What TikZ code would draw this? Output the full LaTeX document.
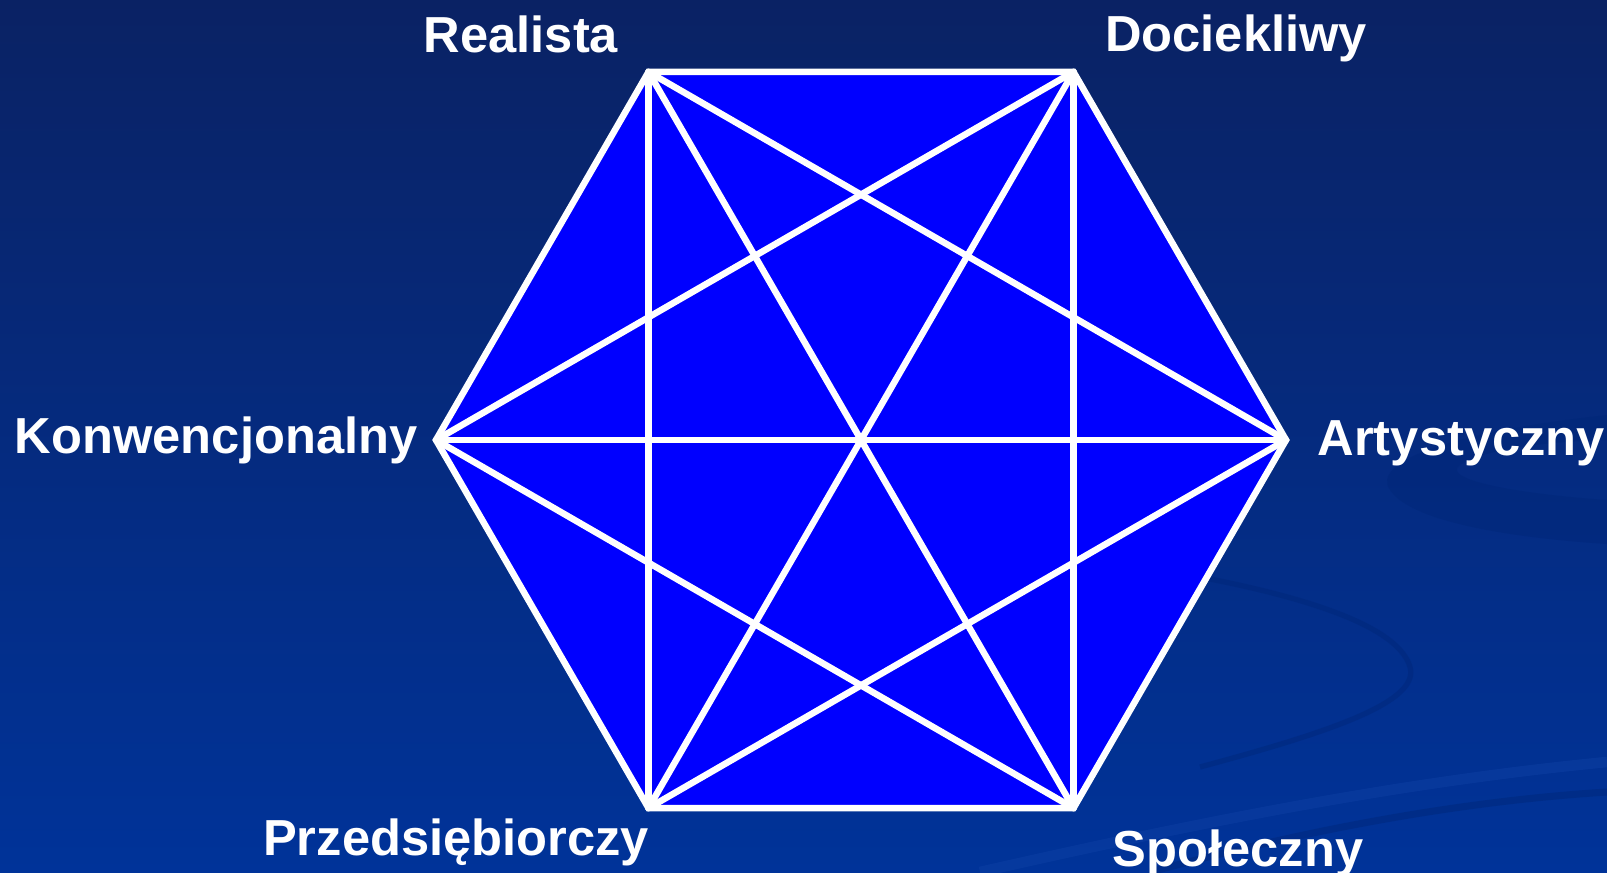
\documentclass[tikz,border=0pt]{standalone}
\usepackage{fontspec}
\setmainfont{Liberation Sans}
\usetikzlibrary{calc}
\definecolor{slidetop}{RGB}{10,34,100}
\definecolor{slideblue}{RGB}{0,51,153}
\definecolor{swooshdark}{RGB}{0,38,120}
\definecolor{swooshlight}{RGB}{20,70,170}
\definecolor{hexblue}{RGB}{0,0,255}

\begin{document}
\begin{tikzpicture}[
    x=0.01cm, y=0.01cm,
    trait/.style={font=\fontsize{14.4}{17}\selectfont\bfseries, text=white, inner sep=0pt},
    link/.style={white, line width=1.85pt, line cap=round, line join=miter},
    swoosh/.style={swooshdark, opacity=0.45},
  ]

  % --- Background ---
  \shade[top color=slidetop, middle color=slideblue, bottom color=slideblue]
    (0,0) rectangle (1607,872);
  \useasboundingbox (0,0) rectangle (1607,872);
  \fill[swoosh] (1607,457) .. controls (1450,440) and (1370,410) .. (1390,382)
    .. controls (1410,352) and (1500,335) .. (1607,328)
    -- (1607,372) .. controls (1520,378) and (1440,392) .. (1460,407)
    .. controls (1490,425) and (1550,430) .. (1607,432) -- cycle;
  \draw[swoosh, line width=1.5pt] (1200,295) .. controls (1330,270) and (1400,240) .. (1410,205)
    .. controls (1420,170) and (1330,140) .. (1200,105);
  \draw[swooshlight, opacity=0.35, line width=3pt] (980,0) .. controls (1200,50) and (1400,90) .. (1607,110);
  \draw[swoosh, line width=2pt] (1150,0) .. controls (1300,40) and (1450,70) .. (1607,80);

  % --- Corners of the hexagon ---
  \coordinate (hexc) at (861,432);
  \coordinate (real)  at ($(hexc)+(120:425)$);
  \coordinate (doc)   at ($(hexc)+(60:425)$);
  \coordinate (art)   at ($(hexc)+(0:425)$);
  \coordinate (spol)  at ($(hexc)+(-60:425)$);
  \coordinate (przed) at ($(hexc)+(-120:425)$);
  \coordinate (konw)  at ($(hexc)+(180:425)$);

  % --- Hexagon and all links ---
  \fill[hexblue] (real) -- (doc) -- (art) -- (spol) -- (przed) -- (konw) -- cycle;
  \draw[link] (real) -- (doc) -- (art) -- (spol) -- (przed) -- (konw) -- cycle;
  \foreach \a/\b in {real/spol, doc/przed, konw/art,
                     real/przed, doc/spol, real/art,
                     doc/konw, konw/spol, art/przed}
    \draw[link] (\a) -- (\b);

  % --- Labels ---
  \node[trait, anchor=base] (lreal) at (521,819) {Realista};
  \node[trait, anchor=base] (ldoc) at (1236,820) {Dociekliwy};
  \node[trait, anchor=base east] (lkonw) at (418,419) {Konwencjonalny};
  \node[trait, anchor=base west] (lart) at (1317,417) {Artystyczny};
  \node[trait, anchor=base] (lprzed) at (456,17) {Przedsiębiorczy};
  \node[trait, anchor=base] (lspol) at (1238,6) {Społeczny};
\end{tikzpicture}
\end{document}
